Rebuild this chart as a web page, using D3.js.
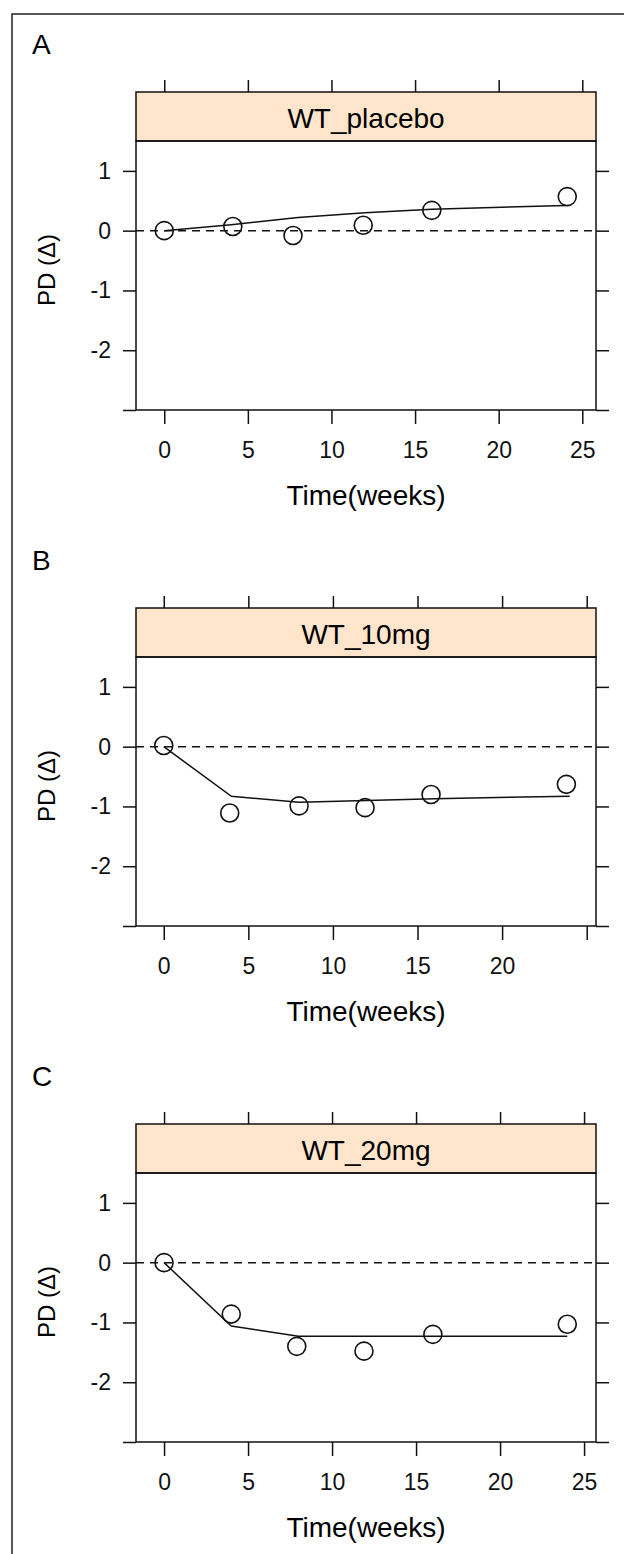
<!DOCTYPE html>
<html>
<head>
<meta charset="utf-8">
<script src="https://cdn.jsdelivr.net/npm/d3@7"></script>
<style>
  body { margin: 0; background: #fff; overflow: hidden; }
  svg { display: block; font-family: "Liberation Sans", Arial, sans-serif; }
</style>
</head>
<body>
<svg id="chart"></svg>
<script>
// Chart data

const panelNames = ["WT_placebo", "WT_10mg", "WT_20mg"];
const panelLetters = ["A", "B", "C"];

// observed points per panel
const obsTime = [
  [0, 4.1, 7.7, 11.9, 16.0, 24.1],
  [0, 3.9, 8.0, 11.9, 15.8, 23.8],
  [0, 4.0, 7.9, 11.9, 16.0, 24.0]
];
const obsValue = [
  [0.00, 0.07, -0.08, 0.09, 0.34, 0.57],
  [0.02, -1.11, -0.99, -1.02, -0.80, -0.63],
  [0.00, -0.86, -1.40, -1.48, -1.20, -1.03]
];

// model prediction line
const predTime = [0, 4, 8, 12, 16, 24];
const predValue = [
  [0.00, 0.10, 0.22, 0.30, 0.36, 0.42],
  [0.00, -0.83, -0.93, -0.90, -0.87, -0.83],
  [0.00, -1.06, -1.23, -1.23, -1.23, -1.23]
];

// axis set-up
const xDomains = [[-1.69, 25.82], [-1.64, 25.55], [-1.67, 25.71]];
const xTicks = [0, 5, 10, 15, 20, 25];
const xTickLabels = [[0, 5, 10, 15, 20, 25], [0, 5, 10, 15, 20], [0, 5, 10, 15, 20, 25]];
const yDomain = [-3, 1.5];
const yTicks = [-3, -2, -1, 0, 1];
const yTickLabels = [-2, -1, 0, 1];

const xTitle = "Time(weeks)";
const yTitle = "PD (\u0394)";

// Layout

const width = 624;
const height = 1554;
const panelStep = 516;
const plot = { left: 136, right: 596, top: 141, bottom: 410 };
const strip = { top: 92, bottom: 141 };

const svg = d3.select("#chart")
  .attr("width", width)
  .attr("height", height)
  .style("overflow", "hidden");

// outer frame (runs past right and bottom of the picture)
svg.append("rect")
  .attr("x", 12)
  .attr("y", 14)
  .attr("width", 800)
  .attr("height", 1800)
  .attr("fill", "none")
  .attr("stroke", "#222")
  .attr("stroke-width", 1.5);

const y = d3.scaleLinear().domain(yDomain).range([plot.bottom, plot.top]);

panelNames.forEach(function (name, i) {

  const g = svg.append("g")
    .attr("transform", "translate(0," + (i * panelStep) + ")");

  const x = d3.scaleLinear().domain(xDomains[i]).range([plot.left, plot.right]);

  // panel letter
  g.append("text")
    .attr("x", 32)
    .attr("y", 54)
    .style("font-size", "28px")
    .text(panelLetters[i]);

  // strip
  g.append("rect")
    .attr("x", plot.left)
    .attr("y", strip.top)
    .attr("width", plot.right - plot.left)
    .attr("height", strip.bottom - strip.top)
    .attr("fill", "#ffe5cc")
    .attr("stroke", "#111")
    .attr("stroke-width", 1.5);

  g.append("text")
    .attr("x", (plot.left + plot.right) / 2)
    .attr("y", 128)
    .attr("text-anchor", "middle")
    .style("font-size", "28px")
    .text(name);

  // panel box
  g.append("rect")
    .attr("x", plot.left)
    .attr("y", plot.top)
    .attr("width", plot.right - plot.left)
    .attr("height", plot.bottom - plot.top)
    .attr("fill", "none")
    .attr("stroke", "#111")
    .attr("stroke-width", 1.5);

  // axes
  const labelsX = xTickLabels[i];
  const bottomAxis = d3.axisBottom(x)
    .tickValues(xTicks)
    .tickSize(14)
    .tickPadding(18)
    .tickFormat((d) => labelsX.includes(d) ? d : "");
  const topAxis = d3.axisTop(x)
    .tickValues(xTicks)
    .tickSize(12)
    .tickFormat("");
  const leftAxis = d3.axisLeft(y)
    .tickValues(yTicks)
    .tickSize(13)
    .tickPadding(12)
    .tickFormat((d) => yTickLabels.includes(d) ? d : "");
  const rightAxis = d3.axisRight(y)
    .tickValues(yTicks)
    .tickSize(13)
    .tickFormat("");

  const axes = [
    [bottomAxis, "translate(0," + plot.bottom + ")"],
    [topAxis, "translate(0," + strip.top + ")"],
    [leftAxis, "translate(" + plot.left + ",0)"],
    [rightAxis, "translate(" + plot.right + ",0)"]
  ];
  axes.forEach(function (a) {
    const ax = g.append("g")
      .attr("transform", a[1])
      .call(a[0])
      .attr("font-size", 23)
      .attr("font-family", "'Liberation Sans', Arial, sans-serif");
    ax.select(".domain").remove();
    ax.selectAll("line").attr("stroke", "#111").attr("stroke-width", 1.5);
    ax.selectAll("text").attr("fill", "#111");
  });

  // reference line at zero
  g.append("line")
    .attr("x1", plot.left)
    .attr("x2", plot.right)
    .attr("y1", y(0))
    .attr("y2", y(0))
    .attr("stroke", "#111")
    .attr("stroke-width", 1.5)
    .attr("stroke-dasharray", "8,6");

  // prediction line
  const line = d3.line()
    .x((d) => x(d[0]))
    .y((d) => y(d[1]));

  g.append("path")
    .datum(d3.zip(predTime, predValue[i]))
    .attr("d", line)
    .attr("fill", "none")
    .attr("stroke", "#111")
    .attr("stroke-width", 1.5);

  // observed points
  g.selectAll("circle.obs")
    .data(d3.zip(obsTime[i], obsValue[i]))
    .enter()
    .append("circle")
    .attr("class", "obs")
    .attr("cx", (d) => x(d[0]))
    .attr("cy", (d) => y(d[1]))
    .attr("r", 9)
    .attr("fill", "none")
    .attr("stroke", "#111")
    .attr("stroke-width", 1.6);

  // axis titles
  g.append("text")
    .attr("x", (plot.left + plot.right) / 2)
    .attr("y", 505)
    .attr("text-anchor", "middle")
    .style("font-size", "28px")
    .text(xTitle);

  g.append("text")
    .attr("transform", "translate(55,270) rotate(-90)")
    .attr("text-anchor", "middle")
    .style("font-size", "24px")
    .text(yTitle);
});
</script>
</body>
</html>
